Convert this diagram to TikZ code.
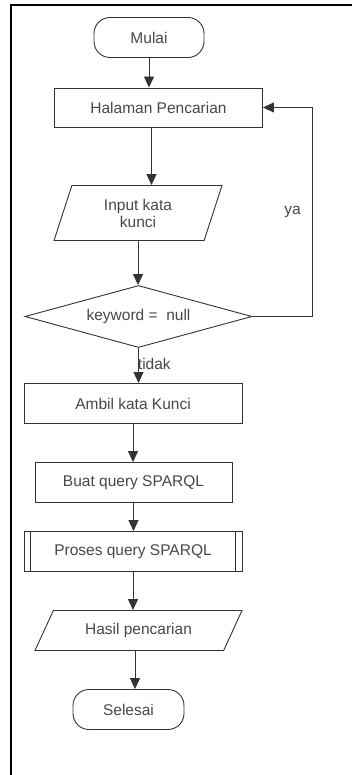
\documentclass[tikz,border=0pt]{standalone}
\usepackage{fontspec}
\setmainfont{Liberation Sans}
\usepackage{tikz}
\usetikzlibrary{shapes.geometric, arrows.meta, positioning}
\tikzstyle{startstop} = [rectangle, rounded corners=16pt, minimum width=110pt, minimum height=40pt, text centered, draw=black!80]
\tikzstyle{process} = [rectangle, minimum width=218pt, minimum height=40pt, text centered, draw=black!80]
\tikzstyle{io} = [trapezium, trapezium left angle=63, trapezium right angle=117, trapezium stretches body, minimum width=168pt, minimum height=55pt, text centered, align=center, draw=black!80]
\tikzstyle{decision} = [diamond, aspect=3.6, inner sep=0pt, minimum width=227pt, minimum height=62pt, text centered, draw=black!80]
\tikzstyle{arrow} = [line width=0.9pt, draw=black!80, -{Triangle[length=11pt,width=10pt]}]

\begin{document}
\begin{tikzpicture}[node distance=79pt, line width=0.9pt, every node/.style={font=\fontsize{15.5pt}{17pt}\selectfont, text=black!72}]
    \useasboundingbox (0,0) rectangle (352pt,-775pt);
    \draw [line width=2.5pt] (352pt,-5pt) -- (11pt,-5pt) -- (11pt,-775pt);

    \node (mulai) [startstop] at (149pt,-37.5pt) {Mulai};
    \node (halaman) [process, below of=mulai, xshift=9.5pt, yshift=9pt, minimum width=208pt, minimum height=39pt] {Halaman Pencarian};
    \node (input) [io, below of=halaman, xshift=-20.5pt, yshift=-26.5pt] {Input kata\\kunci};
    \node (keyword) [decision, below of=input, xshift=0.5pt, yshift=-24.5pt] {keyword =\ \ null};
    \node (ambil) [process, below of=keyword, xshift=-5.5pt, yshift=-8pt] {Ambil kata Kunci};
    \node (buat) [process, below of=ambil, xshift=0.5pt, minimum width=197pt] {Buat query SPARQL};
    \node (proses) [process, below of=buat, xshift=-0.5pt, yshift=10pt] {Proses query SPARQL};
    \node (hasil) [io, below of=proses, xshift=5.5pt, trapezium left angle=49, trapezium right angle=131, minimum width=207pt, minimum height=40pt] {Hasil pencarian};
    \node (selesai) [startstop, below of=hasil, xshift=-10pt, minimum width=111pt] {Selesai};

    % garis ganda proses
    \draw [draw=black!80] ([xshift=7pt]proses.north west) -- ([xshift=7pt]proses.south west);
    \draw [draw=black!80] ([xshift=-7pt]proses.north east) -- ([xshift=-7pt]proses.south east);

    \draw [arrow] (mulai.south) -- (mulai.south |- halaman.north);
    \draw [arrow] ([xshift=-7pt]halaman.south) -- ([xshift=-7pt]halaman.south |- input.north);
    \draw [arrow] (input.south) -- (input.south |- keyword.north);
    \draw [arrow] (keyword.south) -- node[pos=0.45, anchor=west, inner sep=0pt, xshift=-1pt] {tidak} (keyword.south |- ambil.north);
    \draw [arrow] (keyword.east) -- ++(60pt,0) coordinate (loop) |- node[pos=0.25, left=8pt] {ya} (halaman.east);
    \draw [arrow] (ambil.south) -- (ambil.south |- buat.north);
    \draw [arrow] (buat.south) -- (buat.south |- proses.north);
    \draw [arrow] (proses.south) -- (proses.south |- hasil.north);
    \draw [arrow] ([xshift=-3.5pt]hasil.south) -- ([xshift=-3.5pt]hasil.south |- selesai.north);
\end{tikzpicture}
\end{document}
